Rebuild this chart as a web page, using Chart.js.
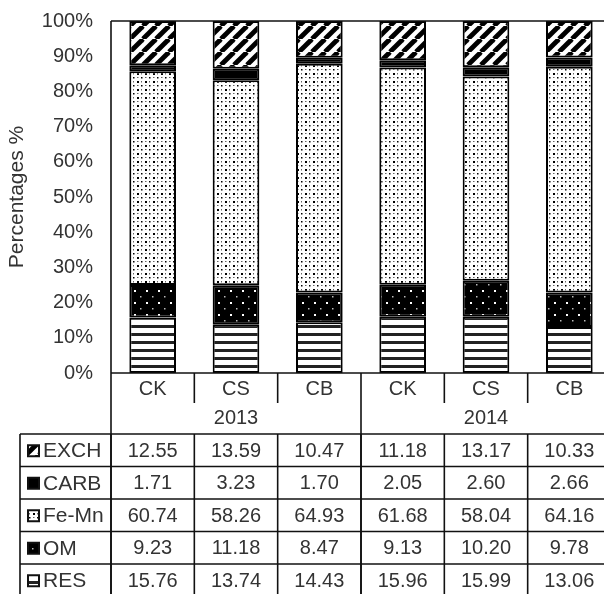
<!DOCTYPE html>
<html>
<head>
<meta charset="utf-8">
<script src="https://cdn.jsdelivr.net/npm/chart.js@4/dist/chart.umd.min.js"></script>
<style>
  html, body { margin: 0; padding: 0; background: #fff; overflow: hidden; }
  canvas { display: block; }
</style>
</head>
<body>
<canvas id="mycanvas" width="612" height="594"></canvas>
<script>
// sampling sites per year, and fraction shares (%)
var years = ['2013', '2014'];
var sites = ['CK', 'CS', 'CB', 'CK', 'CS', 'CB'];
var fractions = ['EXCH', 'CARB', 'Fe-Mn', 'OM', 'RES'];
var exch = [12.55, 13.59, 10.47, 11.18, 13.17, 10.33];
var carb = [1.71, 3.23, 1.70, 2.05, 2.60, 2.66];
var feMn = [60.74, 58.26, 64.93, 61.68, 58.04, 64.16];
var om = [9.23, 11.18, 8.47, 9.13, 10.20, 9.78];
var res = [15.76, 13.74, 14.43, 15.96, 15.99, 13.06];
var yTicks = [0, 10, 20, 30, 40, 50, 60, 70, 80, 90, 100];

var FONT = '"Liberation Sans", Arial, sans-serif';
var TXT = '#333';

// ---- fill patterns ----
function tile(w, h, draw) {
    var c = document.createElement('canvas');
    c.width = w; c.height = h;
    var g = c.getContext('2d');
    draw(g, w, h);
    return document.createElement('canvas').getContext('2d').createPattern(c, 'repeat');
}

var patExch = tile(13, 13, function (g, w, h) {
    g.fillStyle = '#fff'; g.fillRect(0, 0, w, h);
    g.strokeStyle = '#000'; g.lineWidth = 4.8;
    for (var k = -1; k <= 1; k++) {
        g.beginPath();
        g.moveTo(k * w, h);
        g.lineTo(k * w + w, 0);
        g.stroke();
    }
});
var patFeMn = tile(8, 8, function (g, w, h) {
    g.fillStyle = '#fff'; g.fillRect(0, 0, w, h);
    g.fillStyle = '#000';
    g.fillRect(1, 1, 2, 2);
    g.fillRect(5, 5, 1.5, 1.5);
    g.fillStyle = '#666';
    g.fillRect(5, 1, 1, 1.5);
    g.fillRect(1, 5, 1.5, 1);
});
var patOm = tile(12, 12, function (g, w, h) {
    g.fillStyle = '#000'; g.fillRect(0, 0, w, h);
    g.fillStyle = '#fff';
    g.fillRect(2, 2, 2, 2);
    g.fillStyle = '#bbb';
    g.fillRect(8, 8, 1.5, 1.5);
});
var patRes = tile(8, 8, function (g, w, h) {
    g.fillStyle = '#fff'; g.fillRect(0, 0, w, h);
    g.fillStyle = '#222';
    g.fillRect(0, 5, w, 3);
});

var fills = { 'EXCH': patExch, 'CARB': '#000', 'Fe-Mn': patFeMn, 'OM': patOm, 'RES': patRes };
var values = { 'EXCH': exch, 'CARB': carb, 'Fe-Mn': feMn, 'OM': om, 'RES': res };

// bottom of the stack first
var stackOrder = ['RES', 'OM', 'Fe-Mn', 'CARB', 'EXCH'];
var datasets = stackOrder.map(function (f) {
    return {
        label: f,
        data: values[f],
        backgroundColor: fills[f],
        borderColor: '#000',
        borderWidth: 2,
        borderSkipped: false,
        barPercentage: 0.56,
        categoryPercentage: 1
    };
});

// data table under the plot, laid out on the x scale
var tablePlugin = {
    id: 'dataTable',
    afterDraw: function (chart) {
        var ctx = chart.ctx;
        var x = chart.scales.x;
        var area = chart.chartArea;
        var half = (x.getPixelForValue(1) - x.getPixelForValue(0)) / 2;
        var left = area.left, right = area.right;
        var bottom = area.bottom;
        var catRowEnd = bottom + 30;
        var yearRowEnd = bottom + 61;
        var rowH = 32.5;
        var tableLeft = 20;
        var tableEnd = chart.height + 4;

        ctx.save();
        ctx.strokeStyle = '#111';
        ctx.lineWidth = 1.6;

        function line(x1, y1, x2, y2) {
            ctx.beginPath();
            ctx.moveTo(x1, y1);
            ctx.lineTo(x2, y2);
            ctx.stroke();
        }

        // plot frame
        line(left, area.top, right, area.top);
        line(left, area.top, left, tableEnd);
        line(left, bottom, right, bottom);

        // category label row
        ctx.fillStyle = TXT;
        ctx.font = '20px ' + FONT;
        ctx.textAlign = 'center';
        ctx.textBaseline = 'middle';
        for (var i = 0; i < sites.length; i++) {
            var cx = x.getPixelForValue(i);
            ctx.fillText(sites[i], cx, bottom + 16);
            if (i > 0 && i % 3 !== 0) line(cx - half, bottom, cx - half, catRowEnd);
        }
        // year row
        for (var j = 0; j < years.length; j++) {
            var c0 = x.getPixelForValue(j * 3), c2 = x.getPixelForValue(j * 3 + 2);
            ctx.fillText(years[j], (c0 + c2) / 2, bottom + 45);
            if (j > 0) line(c0 - half, bottom, c0 - half, tableEnd);
        }
        line(tableLeft, yearRowEnd, right, yearRowEnd);
        line(tableLeft, yearRowEnd, tableLeft, tableEnd);

        // value rows
        for (var r = 0; r < fractions.length; r++) {
            var f = fractions[r];
            var top = yearRowEnd + r * rowH;
            var mid = top + rowH / 2 + 1;
            if (r > 0) line(tableLeft, top, right, top);

            // key swatch
            ctx.fillStyle = fills[f];
            ctx.fillRect(28, mid - 6, 11, 11);
            ctx.lineWidth = 2;
            ctx.strokeRect(28, mid - 6, 11, 11);
            ctx.lineWidth = 1.6;

            ctx.fillStyle = TXT;
            ctx.textAlign = 'left';
            ctx.font = '21px ' + FONT;
            ctx.fillText(f, 43, mid);
            ctx.font = '20px ' + FONT;
            ctx.textAlign = 'center';
            var vals = values[f];
            for (var k = 0; k < vals.length; k++) {
                var px = x.getPixelForValue(k);
                ctx.fillText(vals[k].toFixed(2), px, mid);
                line(px - half, top, px - half, top + rowH);
            }
        }
        ctx.restore();
    }
};

var ctx = document.getElementById('mycanvas');
var barGraph = new Chart(ctx, {
    type: 'bar',
    data: { labels: sites, datasets: datasets },
    plugins: [tablePlugin],
    options: {
        responsive: false,
        animation: false,
        layout: { padding: { left: 0, top: 21, right: 1, bottom: 221 } },
        plugins: { legend: { display: false }, tooltip: { enabled: false } },
        scales: {
            x: {
                stacked: true,
                display: false
            },
            y: {
                stacked: true,
                min: 0,
                max: 100,
                afterBuildTicks: function (scale) {
                    scale.ticks = yTicks.map(function (v) { return { value: v }; });
                },
                afterFit: function (scale) {
                    scale.width = 111;
                    // tick labels may hang over the top edge
                    scale.paddingTop = 0;
                    scale.paddingBottom = 0;
                },
                grid: { display: false, drawTicks: false },
                border: { display: false },
                ticks: {
                    padding: 18,
                    color: TXT,
                    font: { family: FONT, size: 20 },
                    callback: function (v) { return v + '%'; }
                },
                title: {
                    display: true,
                    text: 'Percentages %',
                    color: TXT,
                    padding: { top: 5, bottom: 0 },
                    font: { family: FONT, size: 21 }
                }
            }
        }
    }
});
</script>
</body>
</html>
